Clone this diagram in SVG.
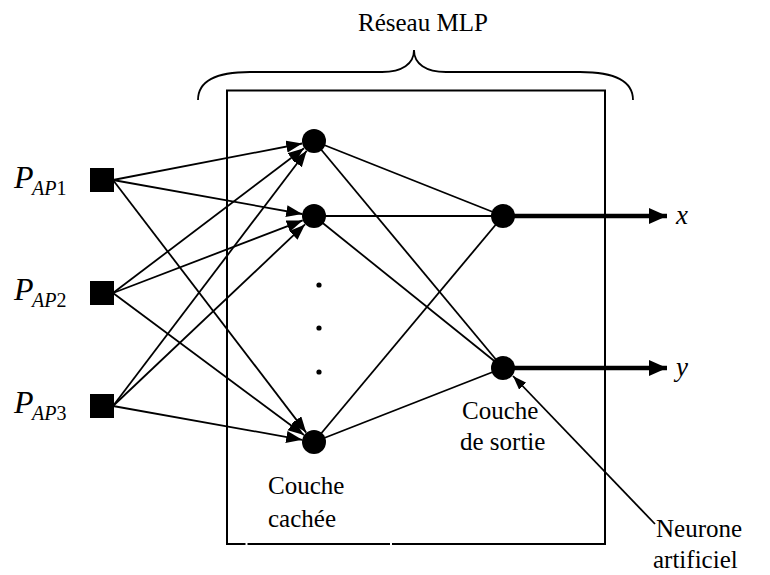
<svg xmlns="http://www.w3.org/2000/svg" width="770" height="575" viewBox="0 0 770 575">
  <style>
    .lbl { font-family: "Liberation Serif", "Times New Roman", serif; font-size: 25px; fill: #000; }
    .it { font-style: italic; }
    .big { font-size: 32px; }
    .sub { font-size: 20px; }
    .var { font-size: 27px; }
    .edge { stroke: #000; stroke-width: 1.8; fill: none; }
    .thick { stroke: #000; stroke-width: 4.5; fill: none; }
    .neuron { fill: #000; }
    .input { fill: #000; }
    .gap { fill: #fff; }
  </style>
  <defs>
    <marker id="head" markerUnits="userSpaceOnUse" markerWidth="17" markerHeight="13" refX="16" refY="6" orient="auto">
      <path d="M0,0 L16,6 L0,12 Z" fill="#000"/>
    </marker>
    <marker id="headBig" markerUnits="userSpaceOnUse" markerWidth="19" markerHeight="17" refX="18" refY="8" orient="auto">
      <path d="M0,0 L18,8 L0,16 Z" fill="#000"/>
    </marker>
    <marker id="headSmall" markerUnits="userSpaceOnUse" markerWidth="15" markerHeight="11" refX="14" refY="5" orient="auto">
      <path d="M0,0 L14,5 L0,10 Z" fill="#000"/>
    </marker>
  </defs>

  <!-- network frame and brace -->
  <rect x="227" y="90.5" width="378" height="453.5" fill="none" stroke="#000" stroke-width="2"/>
  <rect class="gap" x="245.5" y="542" width="2" height="4"/>
  <rect class="gap" x="390" y="542" width="2" height="4"/>
  <path d="M198,100 C198,82 214,72 250,72 L382,72 C402,72 414,64 414,50 C414,64 426,72 446,72 L580,72 C616,72 633,82 633,100" fill="none" stroke="#000" stroke-width="1.8"/>
  <text class="lbl" x="358" y="31">Réseau MLP</text>

  <!-- connectors -->
  <g id="connectors">
    <!-- inputs to hidden layer -->
    <line class="edge" x1="113" y1="180" x2="302.2" y2="143.5" marker-end="url(#head)"/>
    <line class="edge" x1="113" y1="180" x2="302.2" y2="214.0" marker-end="url(#head)"/>
    <line class="edge" x1="113" y1="180" x2="306.2" y2="432.6" marker-end="url(#head)"/>
    <line class="edge" x1="113" y1="293" x2="304.0" y2="148.3" marker-end="url(#head)"/>
    <line class="edge" x1="113" y1="293" x2="302.7" y2="220.4" marker-end="url(#head)"/>
    <line class="edge" x1="113" y1="293" x2="304.0" y2="435.0" marker-end="url(#head)"/>
    <line class="edge" x1="113" y1="406" x2="306.7" y2="150.8" marker-end="url(#head)"/>
    <line class="edge" x1="113" y1="406" x2="305.0" y2="224.4" marker-end="url(#head)"/>
    <line class="edge" x1="113" y1="406" x2="302.2" y2="439.8" marker-end="url(#head)"/>
    <!-- hidden to output layer -->
    <line class="edge" x1="314" y1="141" x2="503" y2="216"/>
    <line class="edge" x1="314" y1="141" x2="503" y2="368"/>
    <line class="edge" x1="314" y1="216" x2="503" y2="216"/>
    <line class="edge" x1="314" y1="216" x2="503" y2="368"/>
    <line class="edge" x1="314" y1="442" x2="503" y2="216"/>
    <line class="edge" x1="314" y1="442" x2="503" y2="368"/>
    <!-- outputs -->
    <line class="thick" x1="503" y1="216" x2="667" y2="216" marker-end="url(#headBig)"/>
    <line class="thick" x1="503" y1="368" x2="667" y2="368" marker-end="url(#headBig)"/>
    <!-- annotation pointer -->
    <line class="edge" x1="655" y1="524" x2="513" y2="376" marker-end="url(#headSmall)"/>
  </g>

  <!-- input nodes -->
  <g id="in1">
    <rect class="input" x="90" y="168" width="24" height="24"/>
    <text class="lbl it big" x="14" y="188">P</text>
    <text class="lbl sub" x="32" y="195"><tspan class="it">AP</tspan>1</text>
  </g>
  <g id="in2">
    <rect class="input" x="90" y="281" width="24" height="24"/>
    <text class="lbl it big" x="14" y="300">P</text>
    <text class="lbl sub" x="32" y="307"><tspan class="it">AP</tspan>2</text>
  </g>
  <g id="in3">
    <rect class="input" x="90" y="394" width="24" height="24"/>
    <text class="lbl it big" x="14" y="413">P</text>
    <text class="lbl sub" x="32" y="420"><tspan class="it">AP</tspan>3</text>
  </g>

  <!-- hidden layer -->
  <g id="h1"><circle class="neuron" cx="314" cy="141" r="12"/></g>
  <g id="h2"><circle class="neuron" cx="314" cy="216" r="12"/></g>
  <g id="ellipsis">
    <circle class="neuron" cx="319" cy="285" r="2.6"/>
    <circle class="neuron" cx="319" cy="328" r="2.6"/>
    <circle class="neuron" cx="319" cy="372" r="2.6"/>
  </g>
  <g id="h4"><circle class="neuron" cx="314" cy="442" r="12"/></g>
  <text class="lbl" x="268" y="494">Couche</text>
  <text class="lbl" x="268" y="527">cachée</text>

  <!-- output layer -->
  <g id="o1"><circle class="neuron" cx="503" cy="216" r="12"/></g>
  <g id="o2"><circle class="neuron" cx="503" cy="368" r="12"/></g>
  <text class="lbl" x="462" y="419">Couche</text>
  <text class="lbl" x="460" y="450">de sortie</text>

  <!-- output labels -->
  <text class="lbl it var" x="676" y="224">x</text>
  <text class="lbl it var" x="676" y="376">y</text>

  <!-- annotation -->
  <text class="lbl" x="656" y="537">Neurone</text>
  <text class="lbl" x="653" y="568">artificiel</text>
</svg>
